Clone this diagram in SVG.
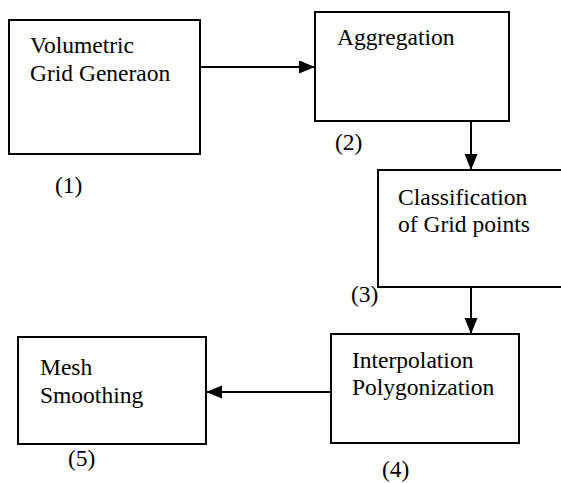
<svg xmlns="http://www.w3.org/2000/svg" width="561" height="483" viewBox="0 0 561 483">
<style>
.box{fill:#fff;stroke:#000;stroke-width:2}
text{font-family:'Liberation Serif','Times New Roman',serif;font-size:23.5px;fill:#000}
.c{stroke:#000;stroke-width:2;fill:none}
</style>
<defs>
<marker id="ah" markerUnits="userSpaceOnUse" markerWidth="18" markerHeight="14" refX="16" refY="6.5" orient="auto">
<path d="M0,0 L16,6.5 L0,13 Z" fill="#000"/>
</marker>
</defs>
<rect width="561" height="483" fill="#fff"/>
<g id="n1">
<rect class="box" x="9" y="20" width="191" height="134"/>
<text x="30" y="53">Volumetric</text>
<text x="30" y="81">Grid Generaon</text>
<text x="55" y="193">(1)</text>
</g>
<g id="n2">
<rect class="box" x="315" y="12" width="194" height="109"/>
<text x="337" y="45">Aggregation</text>
<text x="335" y="150">(2)</text>
</g>
<g id="n3">
<rect class="box" x="378" y="170" width="200" height="117"/>
<text x="398" y="205">Classification</text>
<text x="398" y="232">of Grid points</text>
<text x="351" y="302">(3)</text>
</g>
<g id="n4">
<rect class="box" x="331" y="334" width="188" height="109"/>
<text x="352" y="368">Interpolation</text>
<text x="352" y="395">Polygonization</text>
<text x="382" y="477">(4)</text>
</g>
<g id="n5">
<rect class="box" x="18" y="337" width="188" height="107"/>
<text x="40" y="375">Mesh</text>
<text x="40" y="403">Smoothing</text>
<text x="68" y="466">(5)</text>
</g>
<g id="connectors">
<line class="c" x1="200" y1="67" x2="315" y2="67" marker-end="url(#ah)"/>
<line class="c" x1="471" y1="121" x2="471" y2="170" marker-end="url(#ah)"/>
<line class="c" x1="471" y1="287" x2="471" y2="334" marker-end="url(#ah)"/>
<line class="c" x1="331" y1="392" x2="206" y2="392" marker-end="url(#ah)"/>
</g>
</svg>
